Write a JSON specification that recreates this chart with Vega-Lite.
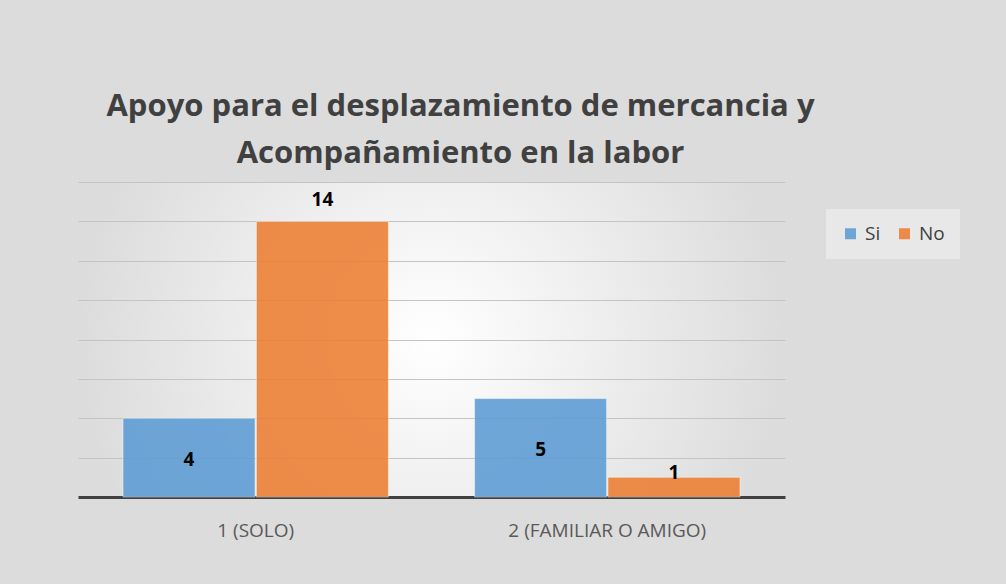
{
  "$schema": "https://vega.github.io/schema/vega-lite/v6.json",
  "width": 707,
  "height": 315,
  "autosize": {"type": "none"},
  "padding": {"left": 78, "top": 182, "right": 221, "bottom": 87},
  "background": "#dcdcdc",
  "view": {
    "stroke": null,
    "fill": {"expr": "{gradient: 'radial', x1: 0.5, y1: 0.5, r1: 0, x2: 0.5, y2: 0.5, r2: 0.5, stops: [{offset: 0, color: '#ffffff'}, {offset: 1, color: '#dcdcdc'}]}"}
  },
  "title": {
    "text": ["Apoyo para el desplazamiento de mercancia y", "Acompañamiento en la labor"],
    "font": "Open Sans",
    "fontSize": 31,
    "fontWeight": "bold",
    "color": "#404040",
    "lineHeight": 47,
    "anchor": "middle",
    "dx": 29,
    "offset": 12
  },
  "data": {
    "values": [
      {"grupo": "1 (SOLO)", "serie": "Si", "valor": 4},
      {"grupo": "1 (SOLO)", "serie": "No", "valor": 14},
      {"grupo": "2 (FAMILIAR O AMIGO)", "serie": "Si", "valor": 5},
      {"grupo": "2 (FAMILIAR O AMIGO)", "serie": "No", "valor": 1}
    ]
  },
  "encoding": {
    "x": {
      "field": "grupo",
      "type": "nominal",
      "scale": {"paddingInner": 0.245, "paddingOuter": 0.128},
      "axis": {
        "title": null,
        "labelAngle": 0,
        "labelLimit": 0,
        "ticks": false,
        "domainColor": "#404040",
        "domainWidth": 3,
        "labelFont": "Open Sans",
        "labelFontSize": 19,
        "labelColor": "#595959",
        "labelPadding": 24
      }
    },
    "xOffset": {"field": "serie", "type": "nominal", "sort": ["Si", "No"], "scale": {"paddingInner": 0.01}}
  },
  "layer": [
    {
      "mark": {"type": "bar", "opacity": 0.87, "stroke": "#ffffff", "strokeWidth": 1, "strokeOpacity": 0.5},
      "encoding": {
        "y": {
          "field": "valor",
          "type": "quantitative",
          "scale": {"domain": [0, 16]},
          "axis": {
            "title": null,
            "labels": false,
            "ticks": false,
            "domain": false,
            "values": [0, 2, 4, 6, 8, 10, 12, 14, 16],
            "gridColor": "#c4c4c4",
            "gridWidth": 1
          }
        },
        "color": {
          "field": "serie",
          "type": "nominal",
          "scale": {"domain": ["Si", "No"], "range": ["#5b9bd5", "#ed7d31"]},
          "legend": {
            "title": null,
            "orient": "none",
            "direction": "horizontal",
            "legendX": 748,
            "legendY": 27,
            "padding": 15,
            "fillColor": "#e8e8e8",
            "symbolType": "square",
            "symbolSize": 121,
            "symbolStrokeWidth": 0,
            "labelFont": "Open Sans",
            "labelFontSize": 19,
            "labelColor": "#404040",
            "columnPadding": 14,
            "labelOffset": 5
          }
        }
      }
    },
    {
      "transform": [{"filter": "datum.serie === 'Si'"}],
      "mark": {"type": "text", "font": "Open Sans", "fontSize": 19, "fontWeight": "bold", "color": "#000000", "baseline": "middle", "dy": 2},
      "encoding": {
        "y": {"field": "valor", "type": "quantitative", "scale": {"domain": [0, 32]}, "axis": null},
        "text": {"field": "valor", "type": "quantitative"}
      }
    },
    {
      "transform": [{"filter": "datum.serie === 'No'"}],
      "mark": {"type": "text", "font": "Open Sans", "fontSize": 19, "fontWeight": "bold", "color": "#000000", "baseline": "middle"},
      "encoding": {
        "y": {"field": "valor", "type": "quantitative", "scale": {"domain": [-0.144, 14.87]}, "axis": null},
        "text": {"field": "valor", "type": "quantitative"}
      }
    }
  ],
  "resolve": {"scale": {"y": "independent"}}
}
